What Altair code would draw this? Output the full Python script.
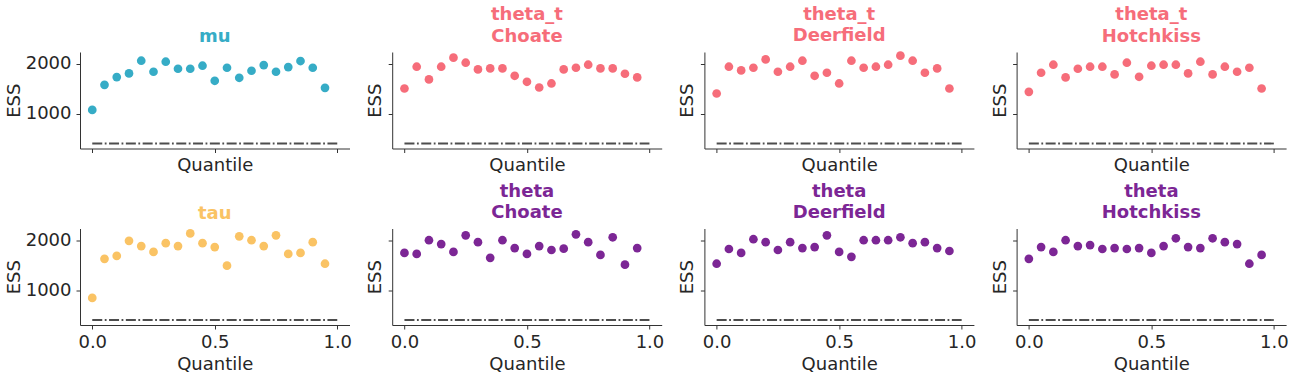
import altair as alt
import pandas as pd

quantiles = [0.0, 0.05, 0.1, 0.15, 0.2, 0.25, 0.3, 0.35, 0.4, 0.45,
             0.5, 0.55, 0.6, 0.65, 0.7, 0.75, 0.8, 0.85, 0.9, 0.95]

ess_mu = [1074, 1577, 1732, 1805, 2060, 1839, 2040, 1899, 1899, 1960,
          1658, 1919, 1718, 1859, 1973, 1839, 1933, 2054, 1919, 1517]
ess_theta_t_choate = [1503, 1940, 1685, 1940, 2121, 2020, 1886, 1906, 1906, 1758,
                      1638, 1523, 1604, 1886, 1919, 1980, 1906, 1906, 1799, 1725]
ess_theta_t_deerfield = [1403, 1940, 1866, 1919, 2087, 1839, 1940, 2060, 1758, 1819,
                         1604, 2060, 1919, 1940, 1980, 2161, 2060, 1819, 1906, 1503]
ess_theta_t_hotchkiss = [1436, 1819, 1980, 1725, 1899, 1940, 1940, 1785, 2020, 1738,
                         1960, 1980, 1980, 1805, 2040, 1785, 1940, 1839, 1919, 1503]
ess_tau = [843, 1627, 1686, 1987, 1882, 1765, 1941, 1882, 2137, 1941,
           1863, 1490, 2078, 2000, 1882, 2098, 1725, 1745, 1961, 1529]
ess_theta_choate = [1745, 1725, 2000, 1922, 1765, 2098, 1961, 1647, 2000, 1843,
                    1725, 1882, 1804, 1830, 2118, 1961, 1706, 2059, 1510, 1843]
ess_theta_deerfield = [1529, 1824, 1745, 2020, 1961, 1804, 1961, 1843, 1863, 2098,
                       1765, 1667, 2000, 2000, 2000, 2059, 1941, 1961, 1843, 1784]
ess_theta_hotchkiss = [1627, 1863, 1765, 2000, 1882, 1902, 1824, 1843, 1824, 1843,
                       1745, 1882, 2039, 1863, 1843, 2039, 1961, 1922, 1529, 1706]

titles = [["mu"], ["theta_t", "Choate"], ["theta_t", "Deerfield"], ["theta_t", "Hotchkiss"],
          ["tau"], ["theta", "Choate"], ["theta", "Deerfield"], ["theta", "Hotchkiss"]]
series = [ess_mu, ess_theta_t_choate, ess_theta_t_deerfield, ess_theta_t_hotchkiss,
          ess_tau, ess_theta_choate, ess_theta_deerfield, ess_theta_hotchkiss]
colors = ["#36acc6", "#f66d7a", "#f66d7a", "#f66d7a",
          "#fac364", "#7c2695", "#7c2695", "#7c2695"]

min_ess = 400
x_ticks = [0, 0.5, 1]
y_ticks = [1000, 2000]

TEXT = "#262626"
FONT = "DejaVu Sans"


def panel(values, title, color, row, col):
    df = pd.DataFrame({"Quantile": quantiles, "ESS": values})
    rule_df = pd.DataFrame({"Quantile": [0.0], "Quantile2": [1.0], "ESS": [min_ess]})
    xscale = alt.Scale(domain=[-0.05, 1.05], nice=False, zero=False)
    yscale = alt.Scale(domain=[300, 2235], nice=False, zero=False)
    xaxis = alt.Axis(values=x_ticks, format=".1f", labels=(row == 1), title="Quantile",
                     labelPadding=4, titlePadding=4 if row == 1 else 3, grid=False)
    yaxis = alt.Axis(values=y_ticks, format="d", labels=(col == 0), title="ESS",
                     labelPadding=5, titlePadding=2 if col == 0 else 3, grid=False)
    pts = alt.Chart(df).mark_circle(size=76, opacity=1, color=color).encode(
        x=alt.X("Quantile:Q", scale=xscale, axis=xaxis),
        y=alt.Y("ESS:Q", scale=yscale, axis=yaxis),
    )
    rule = alt.Chart(rule_df).mark_rule(
        color="#4d4d4d", strokeWidth=1.8, strokeDash=[10, 2.5, 1.8, 2.5]
    ).encode(
        x=alt.X("Quantile:Q", scale=xscale),
        x2="Quantile2:Q",
        y=alt.Y("ESS:Q", scale=yscale),
    )
    return alt.layer(rule, pts).properties(
        width=269.5, height=96.5,
        title=alt.TitleParams(text=title, color=color, fontSize=18, fontWeight="bold",
                              font=FONT, anchor="middle", baseline="bottom",
                              lineHeight=21.6, offset=5, dy=17),
    )


charts = [panel(series[i], titles[i], colors[i], i // 4, i % 4) for i in range(8)]

chart = alt.concat(
    *charts, columns=4, spacing={"row": 79.5, "column": 42.2}, bounds="flush"
).properties(background="white").configure_view(stroke=None).configure_axis(
    grid=False,
    domainColor="#333333", domainWidth=1,
    tickColor="#333333", tickSize=4, tickWidth=1,
    labelFont=FONT, labelFontSize=18, labelColor=TEXT,
    titleFont=FONT, titleFontSize=18, titleColor=TEXT, titleFontWeight="normal",
)

chart.save("out.html", embed_options={"renderer": "svg", "actions": False})
